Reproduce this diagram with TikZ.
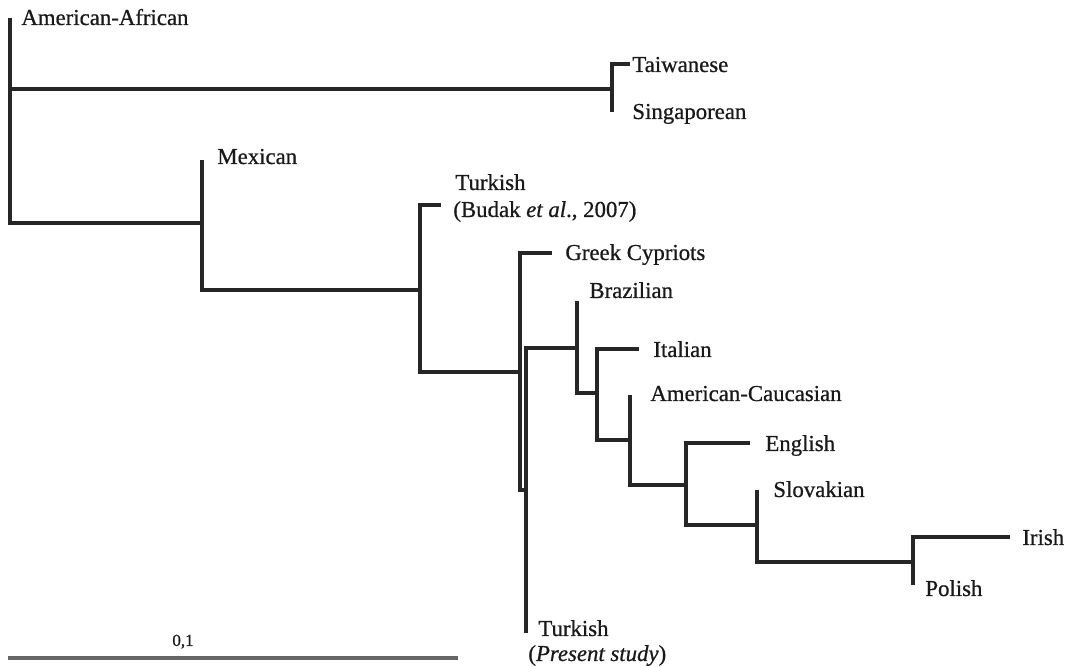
\documentclass[tikz,border=0pt]{standalone}
\usepackage{fontspec}
\setmainfont{Liberation Serif}[FakeBold=0.7]
\begin{document}
\begin{tikzpicture}[x=0.5pt,y=-0.5pt,
  br/.style={line width=1.7pt, draw=black!85, line join=miter},
  lab/.style={anchor=base west, inner sep=0pt, font=\fontsize{11.4}{13}\selectfont, text=black!90},
  scalebar/.style={line width=2.4pt, draw=black!60}]
\path[use as bounding box] (0,0) rectangle (1066,667);
% tree coordinates
\coordinate (root) at (10,120);
\coordinate (aa) at (10,18);
\coordinate (ts) at (612,89);
\coordinate (tw) at (630,64);
\coordinate (sg) at (612,112);
\coordinate (m) at (202,223);
\coordinate (mx) at (202,160);
\coordinate (t1) at (420,290);
\coordinate (tb) at (441,205);
\coordinate (g) at (520,372);
\coordinate (gc) at (552,253);
\coordinate (p) at (526,490);
\coordinate (tp) at (526,633);
\coordinate (b) at (577,348);
\coordinate (bz) at (577,301);
\coordinate (i) at (597,393);
\coordinate (it) at (639,349);
\coordinate (ac) at (630,440);
\coordinate (act) at (630,395);
\coordinate (e) at (686,485);
\coordinate (en) at (750,443);
\coordinate (s) at (757,525);
\coordinate (sk) at (757,490);
\coordinate (ip) at (913,562);
\coordinate (ir) at (1010,537);
\coordinate (pl) at (913,585);
% branches
\draw[br] (root) |- (aa);
\draw[br] (root) |- (ts);
\draw[br] (root) |- (m);
\draw[br] (ts) |- (tw);
\draw[br] (ts) |- (sg);
\draw[br] (m) |- (mx);
\draw[br] (m) |- (t1);
\draw[br] (t1) |- (tb);
\draw[br] (t1) |- (g);
\draw[br] (g) |- (gc);
\draw[br] (g) |- (p);
\draw[br] (p) |- (b);
\draw[br] (p) |- (tp);
\draw[br] (b) |- (bz);
\draw[br] (b) |- (i);
\draw[br] (i) |- (it);
\draw[br] (i) |- (ac);
\draw[br] (ac) |- (act);
\draw[br] (ac) |- (e);
\draw[br] (e) |- (en);
\draw[br] (e) |- (s);
\draw[br] (s) |- (sk);
\draw[br] (s) |- (ip);
\draw[br] (ip) |- (ir);
\draw[br] (ip) |- (pl);
% labels
\node[lab] (laa) at (21,25) {American-African};
\node[lab] (ltw) at (632,72) {Taiwanese};
\node[lab] (lsg) at (632,119) {Singaporean};
\node[lab] (lmx) at (217,164) {Mexican};
\node[lab] (ltb1) at (455,190) {Turkish};
\node[lab] (ltb2) at (453,217) {(Budak \textit{et al}., 2007)};
\node[lab] (lgc) at (565,260) {Greek Cypriots};
\node[lab] (lbz) at (589,298) {Brazilian};
\node[lab] (lit) at (653,357) {Italian};
\node[lab] (lac) at (650,401) {American-Caucasian};
\node[lab] (len) at (765,451) {English};
\node[lab] (lsk) at (773,497) {Slovakian};
\node[lab] (lir) at (1022,545) {Irish};
\node[lab] (lpl) at (925,596) {Polish};
\node[lab] (ltp1) at (538,636) {Turkish};
\node[lab] (ltp2) at (528,661) {(\textit{Present study})};
% scale bar
\coordinate (sb1) at (8,658);
\coordinate (sb2) at (458,658);
\draw[scalebar] (sb1) -- (sb2);
\node[lab, font=\fontsize{8.5}{10}\selectfont] (lsb) at (172,646) {0,1};
\end{tikzpicture}
\end{document}
